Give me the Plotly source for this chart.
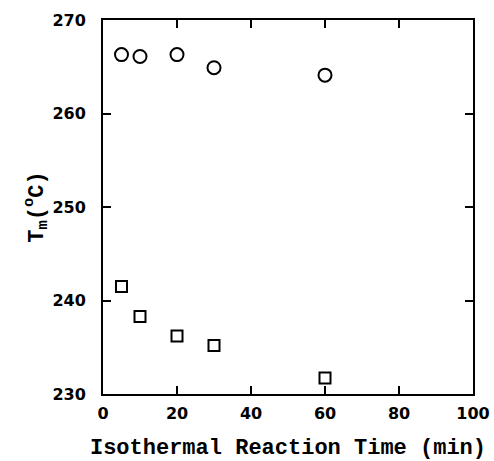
import plotly.graph_objects as go

time_min = [5, 10, 20, 30, 60]
tm_high = [266.3, 266.1, 266.3, 264.9, 264.1]
tm_low = [241.5, 238.3, 236.2, 235.2, 231.7]

x_ticks = [0, 20, 40, 60, 80, 100]
y_ticks = [230, 240, 250, 260, 270]

fig = go.Figure()
fig.add_trace(go.Scatter(x=time_min, y=tm_high, mode="markers",
                         marker=dict(symbol="circle-open", size=13, color="black",
                                     line=dict(width=2, color="black")),
                         showlegend=False))
fig.add_trace(go.Scatter(x=time_min, y=tm_low, mode="markers",
                         marker=dict(symbol="square-open", size=11, color="black",
                                     line=dict(width=2, color="black")),
                         showlegend=False))

tickfont = dict(family="DejaVu Sans", size=16, color="black", weight="bold")
titlefont = dict(family="Liberation Mono", size=22, color="black", weight="bold")

fig.update_layout(
    width=494, height=461,
    margin=dict(l=103, r=21, t=20, b=67),
    paper_bgcolor="white", plot_bgcolor="white",
    xaxis=dict(range=[0, 100], tickvals=x_ticks, ticks="inside", ticklen=8, tickwidth=2,
               tickcolor="black", showline=True, linewidth=2, linecolor="black",
               mirror="ticks", showgrid=False, zeroline=False, tickfont=tickfont,
               ticklabelstandoff=4, automargin=False,
               title=dict(text="Isothermal Reaction Time (min)", font=titlefont, standoff=28)),
    yaxis=dict(range=[230, 270], tickvals=y_ticks, ticks="inside", ticklen=8, tickwidth=2,
               tickcolor="black", showline=True, linewidth=2, linecolor="black",
               mirror="ticks", showgrid=False, zeroline=False, tickfont=tickfont,
               ticklabelstandoff=12, automargin=False,
               title=dict(text="T<sub>m</sub>(<sup>o</sup>C)", font=titlefont, standoff=3)),
)

fig.write_html("out.html")
